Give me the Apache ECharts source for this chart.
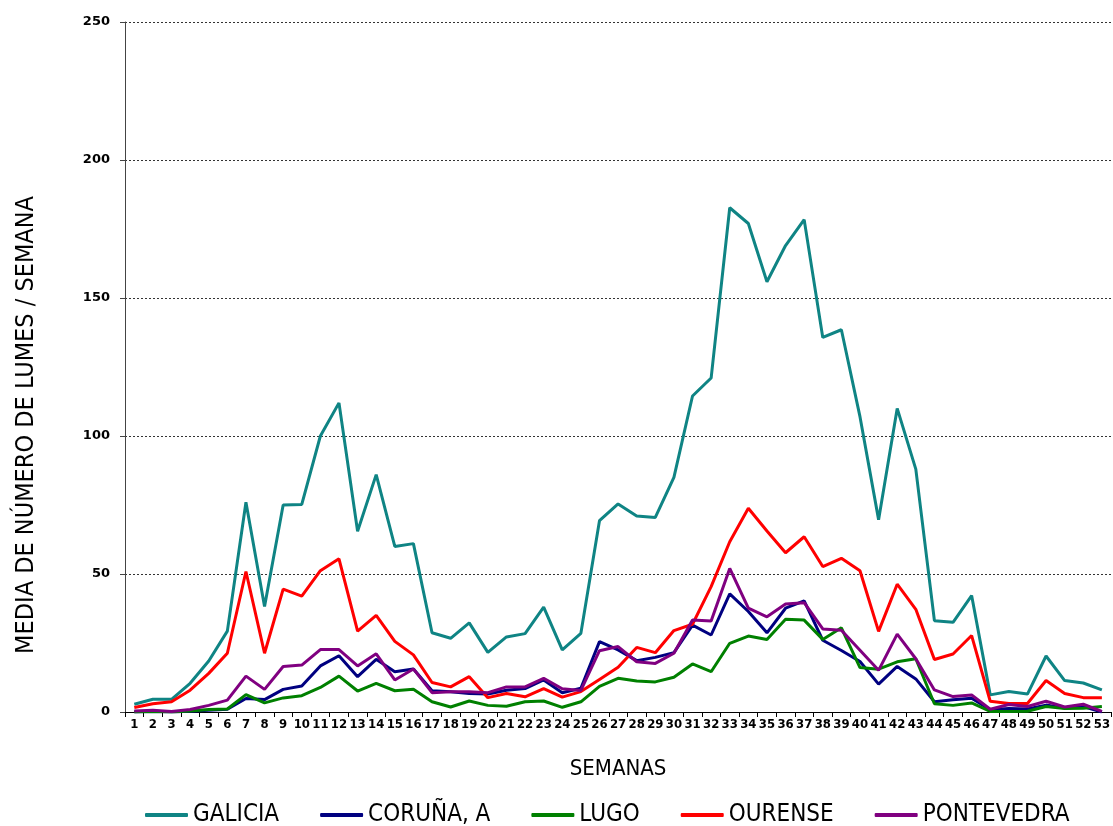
<!DOCTYPE html>
<html>
<head>
<meta charset="utf-8">
<script src="https://cdn.jsdelivr.net/npm/echarts@6/dist/echarts.min.js"></script>
<style>html,body{margin:0;padding:0;background:#fff}#c{width:1113px;height:826px}</style>
</head>
<body>
<div id="c"></div>
<script>
const weeks = Array.from({length:53},(_,i)=>String(i+1));
const seriesNames = ['GALICIA','CORUÑA, A','LUGO','OURENSE','PONTEVEDRA'];
const galicia = [2.8,4.6,4.6,10.4,18.5,29.3,76,38.2,75,75.2,100,112,65.5,86,60,61,28.7,26.7,32.3,21.6,27.2,28.4,38,22.5,28.5,69.3,75.4,71,70.5,85,114.5,121,182.7,177,155.9,169,178.4,135.7,138.5,107,69.7,110,88,33.1,32.5,42.2,6.2,7.4,6.5,20.3,11.4,10.5,8];
const coruna = [0,0.2,0,0.3,0.6,1,4.9,4.5,8.2,9.4,16.7,20.4,12.8,19.1,14.6,15.6,7.7,7.3,6.7,6.5,7.9,8.5,11.6,7,8.6,25.5,22.5,18.6,19.8,21.5,31.5,27.9,42.8,36.4,28.7,37.6,40.3,26,22.3,18.3,10.1,16.5,12,3.7,4.4,5,0.8,1.3,1.1,2.5,1.4,2,0];
const lugo = [0,0.2,0,0.4,0.9,1.1,6.3,3.3,5.1,5.9,8.9,13,7.6,10.4,7.7,8.2,3.7,1.8,4,2.4,2.1,3.7,4,1.7,3.7,9.3,12.2,11.2,10.9,12.6,17.4,14.6,24.9,27.5,26.3,33.6,33.3,26.3,30.5,16.1,15.5,18.2,19.3,3,2.4,3.3,0.2,0.2,0.3,2,1.3,1.4,2];
const ourense = [1.6,3,3.7,7.9,14,21.3,50.9,21.3,44.5,42,51.2,55.5,29.3,35,25.6,20.7,10.7,9.1,12.8,5.2,6.7,5.5,8.5,5.4,7.4,11.8,16.2,23.4,21.5,29.5,31.8,45.4,61.7,73.8,65.6,57.7,63.5,52.7,55.7,51.2,29.2,46.3,37.2,19,21,27.7,3.9,3.1,3.1,11.4,6.7,5.2,5.2];
const pontevedra = [0.4,0.6,0.2,0.9,2.4,4.3,13,8.2,16.5,17,22.6,22.6,16.7,21.1,11.6,15.6,7,7.3,7.3,7,9.1,9.1,12.2,8.4,7.8,22.2,23.7,18.2,17.6,21.3,33.3,33,52,37.6,34.5,39.1,39.6,30.1,29.6,22.4,15.1,28.2,19.3,8,5.6,6.2,1,2.7,2,3.9,1.8,2.8,0.2];
const colors = ['#0F8484','#000080','#008000','#FF0000','#800080'];
const yTitle = 'MEDIA DE NÚMERO DE LUMES / SEMANA';
const xTitle = 'SEMANAS';

const allData = [galicia, coruna, lugo, ourense, pontevedra];
const chart = echarts.init(document.getElementById('c'), null, {renderer:'canvas'});
chart.setOption({
  animation: false,
  backgroundColor: '#fff',
  color: colors,
  grid: {left: 125, right: 0, top: 22, bottom: 114, containLabel: false},
  legend: {
    left: 140, top: 798,
    icon: 'roundRect', itemWidth: 43, itemHeight: 4, itemGap: 41,
    textStyle: {fontFamily: '"DejaVu Sans Condensed"', fontSize: 24, color: '#000'},
    data: seriesNames
  },
  graphic: [{
    type: 'text', x: 26, y: 425, rotation: Math.PI/2,
    style: {text: yTitle, fill: '#000', font: '25px "DejaVu Sans Condensed"', textAlign: 'center', textVerticalAlign: 'middle'}
  }],
  xAxis: {
    type: 'category', data: weeks, boundaryGap: true,
    name: xTitle, nameLocation: 'middle', nameGap: 46,
    nameTextStyle: {fontFamily: '"DejaVu Sans Condensed"', fontSize: 22, color: '#000'},
    axisLine: {lineStyle: {color: '#000', width: 1}},
    axisTick: {show: true, interval: 0, length: 5, lineStyle: {color: '#000'}},
    axisLabel: {interval: 0, margin: 6, fontFamily: '"DejaVu Sans Condensed"', fontWeight: 'bold', fontSize: 13, color: '#000'},
    splitLine: {show: false}
  },
  yAxis: {
    type: 'value', min: 0, max: 250, interval: 50,
    axisLine: {show: true, lineStyle: {color: '#444', width: 1}},
    axisTick: {show: true, length: 5, lineStyle: {color: '#444'}},
    axisLabel: {margin: 15, fontFamily: '"DejaVu Sans"', fontWeight: 'bold', fontSize: 13, color: '#000'},
    splitLine: {show: true, lineStyle: {color: '#333', width: 1, type: [2,2]}}
  },
  series: seriesNames.map((n,i)=>({
    name: n, type: 'line', data: allData[i], symbol: 'none', showSymbol: false,
    lineStyle: {width: 3, color: colors[i]}, itemStyle: {color: colors[i]}
  }))
});
</script>
</body>
</html>
